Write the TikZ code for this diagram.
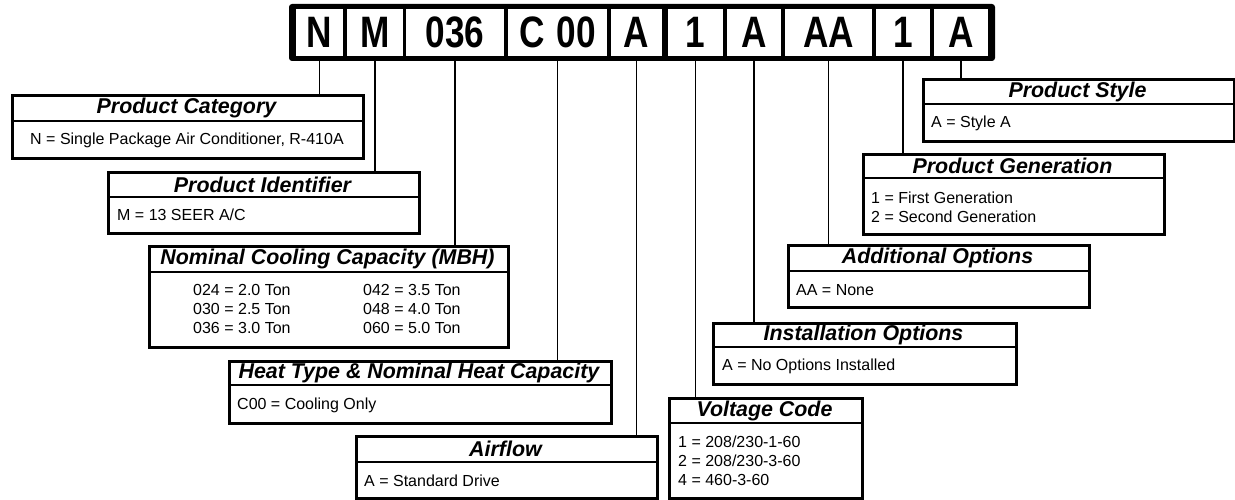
\documentclass[tikz,border=0pt]{standalone}
\usepackage{fontspec}
\setmainfont{Liberation Sans}
\usetikzlibrary{calc}
\newcommand\cbox[7]{%
  \pgfmathsetmacro\bw{#4-#2}\pgfmathsetmacro\bh{#5-#3}%
  \node[cbx, minimum width=\bw pt, minimum height=\bh pt, anchor=north west] (#1) at (#2,#3) {};
  \draw[divl] (#2,#6) -- (#4,#6);
  \node[hdr] (#1-t) at ({(#2+#4)/2},{(#3+#6)/2+0.5}) {#7};
}
\tikzset{
  cbx/.style={draw=black, line width=2.6pt, fill=white, inner sep=0pt, rectangle},
  divl/.style={line width=2.6pt},
  hdr/.style={inner sep=0pt, font=\fontsize{21.4}{22}\selectfont\bfseries\itshape},
  body/.style={inner sep=0pt, anchor=west, font=\fontsize{16}{17}\selectfont},
  cell/.style={fill=white, inner sep=0pt, minimum height=47pt, font=\fontsize{44}{44}\selectfont\bfseries},
  conn/.style={line width=1.9pt}
}
\newcommand\nar[1]{\scalebox{0.8}[1]{#1}}
\begin{document}
\begin{tikzpicture}[x=1pt,y=-1pt]
\useasboundingbox (0,0) rectangle (1235,500);
% top strip
\fill[black, rounded corners=3pt] (289,4) rectangle (995,61);
\node[cell, minimum width=47pt] (c1) at (319.5,32.5) {\nar{N}};
\node[cell, minimum width=56pt] (c2) at (375,32.5) {\nar{M}};
\node[cell, minimum width=98pt] (c3) at (455,32.5) {\nar{036}};
\node[cell, minimum width=99pt] (c4) at (557.5,32.5) {\nar{C\,\,00}};
\node[cell, minimum width=51pt] (c5) at (636.5,32.5) {\nar{A}};
\node[cell, minimum width=55pt] (c6) at (695.5,32.5) {\nar{1}};
\node[cell, minimum width=54pt] (c7) at (754,32.5) {\nar{A}};
\node[cell, minimum width=87pt] (c8) at (828.5,32.5) {\nar{AA}};
\node[cell, minimum width=54pt] (c9) at (903,32.5) {\nar{1}};
\node[cell, minimum width=54pt] (c10) at (961,32.5) {\nar{A}};
% boxes
\cbox{cat}{11}{94}{362}{157}{121}{Product Category}
\cbox{pid}{107}{171}{418}{232}{197}{Product Identifier}
\cbox{cap}{148}{245}{507}{346}{272}{Nominal Cooling Capacity (MBH)}
\cbox{heat}{228}{360}{610}{422}{385}{Heat Type \& Nominal Heat Capacity}
\cbox{air}{355}{435}{656}{497}{462}{Airflow}
\cbox{volt}{668}{397}{861}{497}{423}{Voltage Code}
\cbox{inst}{712}{322}{1015}{383}{347}{Installation Options}
\cbox{add}{787}{244}{1088}{306}{271}{Additional Options}
\cbox{gen}{862}{153}{1163}{233}{178}{Product Generation}
\cbox{sty}{922}{78}{1233}{140}{104}{Product Style}
% body texts
\node[body, anchor=center] (catb) at (187,140) {N = Single Package Air Conditioner, R-410A};
\node[body] (pidb) at (117,215) {M = 13 SEER A/C};
\node[body] (capb1) at (193,290) {024 = 2.0 Ton};
\node[body] (capb2) at (193,309) {030 = 2.5 Ton};
\node[body] (capb3) at (193,328) {036 = 3.0 Ton};
\node[body] (capb4) at (363,290) {042 = 3.5 Ton};
\node[body] (capb5) at (363,309) {048 = 4.0 Ton};
\node[body] (capb6) at (363,328) {060 = 5.0 Ton};
\node[body] (heatb) at (237,405) {C00 = Cooling Only};
\node[body] (airb) at (364,481) {A = Standard Drive};
\node[body] (voltb1) at (678,442) {1 = 208/230-1-60};
\node[body] (voltb2) at (678,461) {2 = 208/230-3-60};
\node[body] (voltb3) at (678,480) {4 = 460-3-60};
\node[body] (instb) at (722,366) {A = No Options Installed};
\node[body] (addb) at (796,290) {AA = None};
\node[body] (genb1) at (871,198) {1 = First Generation};
\node[body] (genb2) at (871,217) {2 = Second Generation};
\node[body] (styb) at (931,123) {A = Style A};
% connectors
\draw[conn] (c1.south) -- (c1.south |- cat.north);
\draw[conn] (c2.south) -- (c2.south |- pid.north);
\draw[conn] (c3.south) -- (c3.south |- cap.north);
\draw[conn] (c4.south) -- (c4.south |- heat.north);
\draw[conn] (c5.south) -- (c5.south |- air.north);
\draw[conn] (c6.south) -- (c6.south |- volt.north);
\draw[conn] (c7.south) -- (c7.south |- inst.north);
\draw[conn] (c8.south) -- (c8.south |- add.north);
\draw[conn] (c9.south) -- (c9.south |- gen.north);
\draw[conn] (c10.south) -- (c10.south |- sty.north);
\end{tikzpicture}
\end{document}
